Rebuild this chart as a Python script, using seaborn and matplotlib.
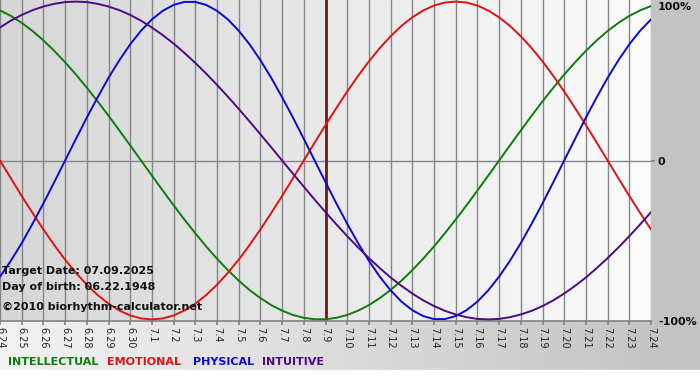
import numpy as np
import pandas as pd
import matplotlib
matplotlib.use("Agg")
import matplotlib.pyplot as plt
import seaborn as sns

# ---- data ----
dates = ["6.24", "6.25", "6.26", "6.27", "6.28", "6.29", "6.30",
         "7.1", "7.2", "7.3", "7.4", "7.5", "7.6", "7.7", "7.8", "7.9",
         "7.10", "7.11", "7.12", "7.13", "7.14", "7.15", "7.16", "7.17",
         "7.18", "7.19", "7.20", "7.21", "7.22", "7.23", "7.24"]
# readings every half day, from 6.24 to 7.24
readings_per_day = 2
intellectual = [0.945, 0.910, 0.866, 0.815, 0.756, 0.690, 0.618, 0.541, 0.458, 0.372,
                0.282, 0.189, 0.095, 0.000, -0.095, -0.189, -0.282, -0.372, -0.458, -0.541,
                -0.618, -0.690, -0.756, -0.815, -0.866, -0.910, -0.945, -0.972, -0.990, -0.999,
                -0.999, -0.990, -0.972, -0.945, -0.910, -0.866, -0.815, -0.756, -0.690, -0.618,
                -0.541, -0.458, -0.372, -0.282, -0.189, -0.095, 0.000, 0.095, 0.189, 0.282,
                0.372, 0.458, 0.541, 0.618, 0.690, 0.756, 0.815, 0.866, 0.910, 0.945,
                0.972]
emotional = [0.000, -0.112, -0.223, -0.330, -0.434, -0.532, -0.624, -0.707, -0.782, -0.847,
             -0.901, -0.944, -0.975, -0.994, -1.000, -0.994, -0.975, -0.944, -0.901, -0.847,
             -0.782, -0.707, -0.624, -0.532, -0.434, -0.330, -0.223, -0.112, 0.000, 0.112,
             0.223, 0.330, 0.434, 0.532, 0.624, 0.707, 0.782, 0.847, 0.901, 0.944,
             0.975, 0.994, 1.000, 0.994, 0.975, 0.944, 0.901, 0.847, 0.782, 0.707,
             0.624, 0.532, 0.434, 0.330, 0.223, 0.112, 0.000, -0.112, -0.223, -0.330,
             -0.434]
physical = [-0.731, -0.631, -0.520, -0.398, -0.270, -0.136, 0.000, 0.136, 0.270, 0.398,
            0.520, 0.631, 0.731, 0.817, 0.888, 0.942, 0.979, 0.998, 0.998, 0.979,
            0.942, 0.888, 0.817, 0.731, 0.631, 0.520, 0.398, 0.270, 0.136, 0.000,
            -0.136, -0.270, -0.398, -0.520, -0.631, -0.731, -0.817, -0.888, -0.942, -0.979,
            -0.998, -0.998, -0.979, -0.942, -0.888, -0.817, -0.731, -0.631, -0.520, -0.398,
            -0.270, -0.136, 0.000, 0.136, 0.270, 0.398, 0.520, 0.631, 0.731, 0.817,
            0.888]
intuitive = [0.837, 0.880, 0.916, 0.946, 0.969, 0.986, 0.997, 1.000, 0.997, 0.986,
             0.969, 0.946, 0.916, 0.880, 0.837, 0.789, 0.736, 0.677, 0.614, 0.547,
             0.476, 0.402, 0.325, 0.246, 0.165, 0.083, 0.000, -0.083, -0.165, -0.246,
             -0.325, -0.402, -0.476, -0.547, -0.614, -0.677, -0.736, -0.789, -0.837, -0.880,
             -0.916, -0.946, -0.969, -0.986, -0.997, -1.000, -0.997, -0.986, -0.969, -0.946,
             -0.916, -0.880, -0.837, -0.789, -0.736, -0.677, -0.614, -0.547, -0.476, -0.402,
             -0.325]
series_names = ["INTELLECTUAL", "EMOTIONAL", "PHYSICAL", "INTUITIVE"]
series_colors = ["#0b7d0b", "#e01212", "#0a0ad8", "#4e0a86"]
target_date = "7.9"
y_labels = ["100%", "0", "-100%"]
info_lines = ["Target Date: 07.09.2025", "Day of birth: 06.22.1948"]
copyright_text = "\u00a92010 biorhythm-calculator.net"

idx = list(range(len(dates)))
df = pd.concat([
    pd.DataFrame({"day": np.arange(len(vals)) / readings_per_day, "value": vals, "series": name})
    for name, vals in zip(series_names, [intellectual, emotional, physical, intuitive])
])

sns.set_theme(style="white")
plt.rcParams["font.family"] = ["DejaVu Sans"]

W, H = 700, 380
fig = plt.figure(figsize=(W / 100, H / 100), dpi=100)

# outer background gradient
bg = fig.add_axes([0, 0, 1, 1], zorder=-10)
grad = np.linspace(0, 1, 256)[None, :]
bg.imshow(grad, aspect="auto", cmap=matplotlib.colors.LinearSegmentedColormap.from_list(
    "bg", ["#f2f2f2", "#c2c2c2"]), extent=[0, 1, 0, 1], origin="lower")
bg.add_patch(plt.Rectangle((0, 0), 1, 10 / H, color="white", zorder=2))
bg.add_patch(plt.Rectangle((651 / W, 59 / H), 49 / W, 321 / H, color="#c3c3c3", zorder=1))
bg.set_xlim(0, 1)
bg.set_ylim(0, 1)
bg.axis("off")

ax = fig.add_axes([0, 1 - 321 / H, 651 / W, 321 / H])
ylo, yhi = -1.01, 1.01
ax.imshow(grad, aspect="auto", cmap=matplotlib.colors.LinearSegmentedColormap.from_list(
    "pl", ["#d6d6d6", "#fbfbfb"]), extent=[0, len(dates) - 1, ylo, yhi], origin="lower", zorder=0)

for i in idx:
    ax.axvline(i, color="#858585", lw=1.0, zorder=1)
ax.axhline(0, color="#858585", lw=1.0, zorder=1)
ax.axvline(dates.index(target_date), color="#7a1515", lw=2.0, zorder=2)

sns.lineplot(data=df, x="day", y="value", hue="series", palette=series_colors,
             hue_order=series_names, lw=1.4, legend=False, ax=ax, zorder=3)

ax.set_xlim(0, len(dates) - 1)
ax.set_ylim(ylo, yhi)
ax.set_xlabel("")
ax.set_ylabel("")
ax.set_xticks(idx)
ax.set_xticklabels(dates, rotation=-90, fontsize=7, va="top", ha="center", color="#222222")
ax.tick_params(axis="x", length=3, color="#858585", pad=1, bottom=True)
ax.yaxis.tick_right()
ax.set_yticks([0])
ax.set_yticklabels([""])
ax.tick_params(axis="y", length=3, color="#858585", right=True)
for s in ax.spines.values():
    s.set_visible(False)
ax.spines["bottom"].set_visible(True)
ax.spines["bottom"].set_color("#858585")

# right-hand percentage labels
for lab, ypx in zip(y_labels, [7, 162, 322]):
    fig.text(658 / W, 1 - ypx / H, lab, fontsize=8, fontweight="bold",
             va="center", ha="left", color="#111111")

for k, line in enumerate(info_lines):
    ax.text(2 / 651, 1 - (271 + 16 * k) / 321, line, transform=ax.transAxes,
            fontsize=8, fontweight="bold", va="center", ha="left", color="#111111", zorder=5)
ax.text(2 / 651, 1 - 307 / 321, copyright_text, transform=ax.transAxes,
        fontsize=8, fontweight="bold", va="center", ha="left", color="#111111", zorder=5)

leg_x = [8, 107, 193, 262]
for name, col, x in zip(series_names, series_colors, leg_x):
    fig.text(x / W, 1 - 362 / H, name, color=col, fontsize=8, fontweight="bold",
             va="center", ha="left")

fig.savefig("out.png", dpi=100)
